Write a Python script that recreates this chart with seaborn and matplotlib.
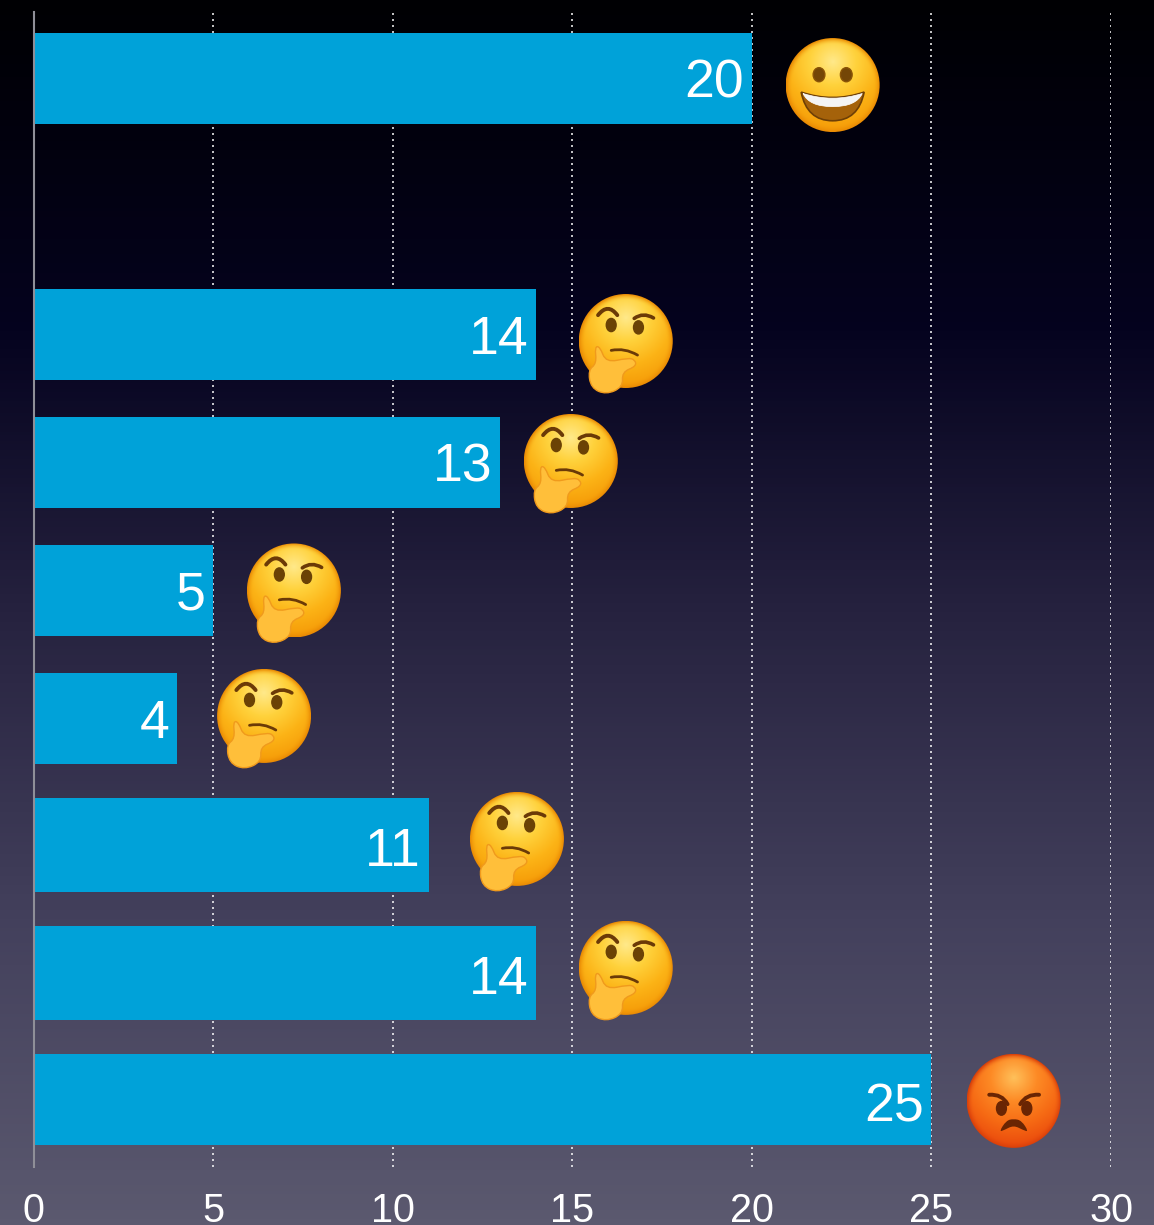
import numpy as np
import pandas as pd
import seaborn as sns
import matplotlib
matplotlib.use("Agg")
import matplotlib.pyplot as plt
from matplotlib.colors import LinearSegmentedColormap
from matplotlib.patches import Circle, Ellipse, PathPatch
from matplotlib.path import Path

# ---- data ----
categories = ["a", "b", "c", "d", "e", "f", "g", "h", "i"]
values = [20, np.nan, 14, 13, 5, 4, 11, 14, 25]
moods = ["grin", None, "think", "think", "think", "think", "think", "think", "angry"]
x_ticks = [0, 5, 10, 15, 20, 25, 30]

# ---- style / layout ----
W, H = 1154, 1225
BAR = "#00a2d9"
emoji_gap = [2.25, 0, 2.49, 1.96, 2.25, 2.42, 2.46, 2.49, 2.29]
emoji_dy = [6.5, 0, 6.5, -1.5, 0, -2.5, -7.5, -6.5, -1.5]
bar_top_shift = [0, 0, 0, 0, 0, 0, -3, -3, -3]   # px, fine placement of the lower bars
bar_grow = [0, 0, 0, 0, 0, 0, 3, 3, 0]           # px
EMOJI_R = 47
PITCH = 128

sns.set_theme(style="white")
plt.rcParams["font.family"] = ["Liberation Sans", "DejaVu Sans"]

fig = plt.figure(figsize=(W / 100, H / 100), dpi=100)

# background gradient
bg = fig.add_axes([0, 0, 1, 1], zorder=0)
bg_cmap = LinearSegmentedColormap.from_list(
    "bg", [(0, "#000003"), (0.12, "#02010f"), (0.27, "#05031f"), (0.5, "#26223f"),
           (0.75, "#43405c"), (1, "#5b596f")])
bg.imshow(np.linspace(0, 1, 400)[:, None], aspect="auto", cmap=bg_cmap, extent=(0, 1, 0, 1))
bg.set_axis_off()

# main chart
ax = fig.add_axes([33.5 / W, 1 - 1167 / H, (1111 - 33.5) / W, (1167 - 12) / H], zorder=1)
ax.patch.set_alpha(0)
df = pd.DataFrame({"category": categories, "value": values})
sns.barplot(data=df, x="value", y="category", order=categories, color=BAR,
            saturation=1, width=0.71, orient="y", ax=ax, zorder=3,
            linewidth=0, edgecolor="none")
ax.set_xlim(0, 30)
ax.set_ylim(8.505, -0.52)
ax.set_xticks(x_ticks)
ax.set_xticklabels([str(t) for t in x_ticks], fontsize=28.5, color="white")
ax.set_yticks([])
ax.set_xlabel("")
ax.set_ylabel("")
ax.tick_params(axis="x", length=0, pad=18)
for s in ("top", "right", "bottom"):
    ax.spines[s].set_visible(False)
ax.spines["left"].set_color("#8f8f98")
ax.spines["left"].set_linewidth(1.5)
ax.spines["left"].set_zorder(5)
for t in x_ticks[1:]:
    ax.axvline(t, color="white", lw=1.2, ls=(0, (1.2, 2.4)), zorder=1, alpha=0.9)

# fine placement of bars
live = [i for i, v in enumerate(values) if not np.isnan(v)]
rects = [p for p in ax.patches if p.get_width() > 0]
for i, rect in zip(live, rects):
    rect.set_y(rect.get_y() + bar_top_shift[i] / PITCH)
    rect.set_height(rect.get_height() + bar_grow[i] / PITCH)

# value labels
for i, v in enumerate(values):
    if not np.isnan(v):
        ax.annotate(str(int(v)), (v, i), xytext=(-5.5, -14), textcoords="offset points",
                    ha="right", va="baseline", fontsize=38.5, color="white", zorder=6)

# emoji overlay in pixel space
ov = fig.add_axes([0, 0, 1, 1], zorder=2)
ov.patch.set_alpha(0)
ov.set_axis_off()


def face(cx, cy, r, stops, rim):
    n = 160
    yy, xx = np.mgrid[-1:1:n * 1j, -1:1:n * 1j]
    d = np.hypot(xx, yy + 0.5) / 1.5
    cmap = LinearSegmentedColormap.from_list("f", stops)
    rgb = cmap(np.clip(d, 0, 1))
    edge = np.clip((np.hypot(xx, yy) - 0.86) / 0.14, 0, 1)[..., None] ** 2
    rimc = np.array(matplotlib.colors.to_rgba(rim))
    rgb = rgb * (1 - edge) + rimc * edge
    im = ov.imshow(rgb, extent=(cx - r, cx + r, cy + r, cy - r), interpolation="bilinear",
                   aspect="auto", zorder=3)
    im.set_clip_path(Circle((cx, cy), r, transform=ov.transData))


def el(cx, cy, r, x, y, rx, ry, color, **kw):
    ov.add_patch(Ellipse((cx + x * r, cy + y * r), 2 * rx * r, 2 * ry * r, color=color, zorder=4, **kw))


def curve(cx, cy, r, pts, lw, color, z=4):
    p = [(cx + a * r, cy + b * r) for a, b in pts]
    codes = [Path.MOVETO] + [Path.CURVE3] * (len(p) - 1)
    ov.add_patch(PathPatch(Path(p, codes), fc="none", ec=color, lw=lw, capstyle="round", zorder=z))


def blob(cx, cy, r, pts, fc, ec=None, lw=0, z=5):
    p = np.array([(cx + a * r, cy + b * r) for a, b in pts])
    m = (p + np.roll(p, -1, axis=0)) / 2
    verts = [m[-1]]
    codes = [Path.MOVETO]
    for i in range(len(p)):
        verts += [p[i], m[i]]
        codes += [Path.CURVE3, Path.CURVE3]
    ov.add_patch(PathPatch(Path(verts, codes), fc=fc, ec=ec or fc, lw=lw, zorder=z))


YEL = ["#ffe98a", "#ffd23c", "#fcb316", "#f59a07"]
ORG = ["#ffc05a", "#fd8a25", "#f66a14", "#e9480c"]
BRN = "#6b3a07"


def grin(cx, cy, r):
    face(cx, cy, r, YEL, "#e98a04")
    for x in (-0.29, 0.29):
        el(cx, cy, r, x, -0.22, 0.125, 0.15, "#8a5407")
        el(cx, cy, r, x, -0.22, 0.095, 0.12, "#744606")
    codes = [Path.MOVETO] + [Path.CURVE3] * 6
    verts = [(cx + a * r, cy + b * r) for a, b in
             [(-0.67, 0.15), (0, 0.38), (0.67, 0.15), (0.55, 0.76), (0, 0.76), (-0.55, 0.76), (-0.67, 0.15)]]
    ov.add_patch(PathPatch(Path(verts, codes), fc="#a5620a", ec="#6e3f06", lw=1.2, zorder=4))
    verts = [(cx + a * r, cy + b * r) for a, b in
             [(-0.63, 0.18), (0, 0.38), (0.63, 0.18), (0.5, 0.46), (0, 0.46), (-0.5, 0.46), (-0.63, 0.18)]]
    ov.add_patch(PathPatch(Path(verts, codes), fc="#f4f4f4", ec="#fff", lw=0.5, zorder=5))


def think(cx, cy, r):
    face(cx, cy, r, YEL, "#e98a04")
    el(cx, cy, r, -0.31, -0.34, 0.105, 0.14, "#6b4205")
    el(cx, cy, r, 0.27, -0.29, 0.105, 0.14, "#6b4205")
    curve(cx, cy, r, [(-0.59, -0.55), (-0.38, -0.82), (-0.18, -0.55)], 2.8, BRN)
    curve(cx, cy, r, [(0.18, -0.48), (0.37, -0.62), (0.59, -0.49)], 2.6, BRN)
    curve(cx, cy, r, [(-0.31, 0.2), (-0.02, 0.14), (0.25, 0.3)], 2.0, BRN)
    blob(cx, cy, r, [(-0.66, 0.12), (-0.55, 0.12), (-0.42, 0.46), (0.05, 0.36), (0.2, 0.4),
                     (0.22, 0.54), (-0.08, 0.66), (-0.06, 0.98), (-0.42, 1.14), (-0.74, 1.0),
                     (-0.8, 0.62), (-0.62, 0.48)],
         "#ffbf3a", ec="#f09a1c", lw=1.0)


def angry(cx, cy, r):
    face(cx, cy, r, ORG, "#d9400a")
    el(cx, cy, r, -0.26, 0.16, 0.105, 0.145, "#6a2503")
    el(cx, cy, r, 0.28, 0.16, 0.105, 0.145, "#6a2503")
    curve(cx, cy, r, [(-0.52, -0.13), (-0.25, -0.15), (-0.13, 0.07)], 2.8, "#6a2503")
    curve(cx, cy, r, [(0.54, -0.13), (0.27, -0.15), (0.14, 0.07)], 2.8, "#6a2503")
    blob(cx, cy, r, [(-0.31, 0.66), (-0.16, 0.42), (0.0, 0.38), (0.17, 0.42), (0.32, 0.66),
                     (0.2, 0.62), (0, 0.52), (-0.2, 0.62)], "#6a2503")


draw = {"grin": grin, "think": think, "angry": angry}
fig.canvas.draw()
for i, (v, m) in enumerate(zip(values, moods)):
    if m is None:
        continue
    px, py = ax.transData.transform((v + emoji_gap[i], i))
    draw[m](px, H - py + emoji_dy[i], EMOJI_R)
ov.set_xlim(0, W)
ov.set_ylim(H, 0)

fig.savefig("out.png", dpi=100)
